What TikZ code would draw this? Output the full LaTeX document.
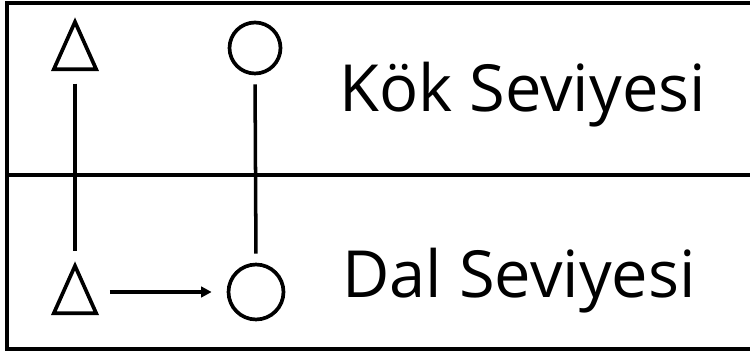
\documentclass[tikz,border=0pt]{standalone}
\usepackage{fontspec}
\setmainfont{Open Sans}
\usetikzlibrary{shapes.geometric,arrows.meta,positioning}

\tikzset{
  frame/.style={line width=2pt},
  tri/.style={draw, line width=2.1pt, regular polygon, regular polygon sides=3,
    minimum size=0.98cm, yscale=1.29},
  ring/.style={draw, circle, line width=2.1pt},
  link/.style={line width=2pt},
  arr/.style={line width=2pt, -{Triangle[length=6pt,width=6pt]}},
  level/.style={anchor=base west, font=\fontsize{37}{40}\selectfont}
}

\begin{document}
\begin{tikzpicture}[x=0.02cm,y=0.02cm]
\tikzstyle{every node}+=[inner sep=0pt]
\useasboundingbox (0,0) rectangle (750,-354);
% frame and level divider
\draw [frame] (770,-3) -- (7,-3) -- (7,-349) -- (770,-349);
\draw [frame] (7,-175) -- (770,-175);
% symbols
\node [tri] (t1) at (75,-53.5) {};
\node [tri] (t2) at (75,-297.5) {};
\node [ring, minimum size=1.02cm] (c1) at (255,-48) {};
\node [ring, minimum size=1.1cm] (c2) at (256,-292) {};
% connectors
\draw [link, shorten <=0.24cm, shorten >=0.2cm] (t1.south) -- (t2.north);
\draw [link, shorten <=0.18cm, shorten >=0.18cm] (c1.south) -- (c2.north);
\draw [arr, shorten <=0.7cm, shorten >=0.3cm] (t1 |- c2) -- (c2.west);
% labels
\node [level] (root) at (339,-112) {Kök Seviyesi};
\node [level] (branch) at (342,-297) {Dal Seviyesi};
\end{tikzpicture}
\end{document}
